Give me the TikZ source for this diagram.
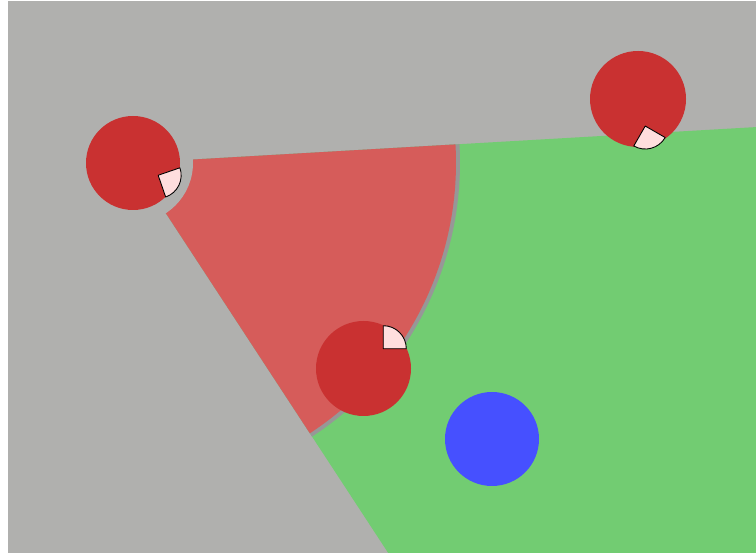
\documentclass[tikz,border=0pt]{standalone}
\usetikzlibrary{calc}
\definecolor{floorgray}{HTML}{B0B0AE}
\definecolor{edgegray}{HTML}{979797}
\definecolor{zonered}{HTML}{D65C5A}
\definecolor{zonegreen}{HTML}{72CC72}
\definecolor{robotred}{HTML}{C93131}
\definecolor{viewpink}{HTML}{FFDEDE}
\definecolor{ballblue}{HTML}{4650FF}

\begin{document}
\begin{tikzpicture}[x=0.02cm,y=0.02cm,
    robot/.style={fill=robotred},
    view/.style={fill=viewpink,draw=black,line width=0.5pt,line join=round}]
  \fill[white] (0,0) rectangle (756,553);
  \useasboundingbox (0,0) rectangle (756,553);
  \fill[floorgray] (8,0) rectangle (756,552);
  \coordinate (apex) at (133,390);
  \coordinate (c1) at (133,390);
  \coordinate (c2) at (363.5,184.5);
  \coordinate (c3) at (638,454);
  \coordinate (ball) at (492,114);
  \begin{scope}
    \clip (8,0) rectangle (756,552);
    % green zone beyond the arc
    \fill[zonegreen] (apex) -- ($(apex)+(3.3:1000)$) -- ($(apex)+(-26.75:1000)$) -- ($(apex)+(-56.8:1000)$) -- cycle;
    \fill[edgegray] (apex) -- ($(apex)+(3.3:327)$) arc[start angle=3.3,end angle=-56.8,radius=327] -- cycle;
    % red zone
    \fill[zonered] (apex) -- ($(apex)+(3.3:323)$) arc[start angle=3.3,end angle=-56.8,radius=323] -- cycle;
    \fill[floorgray] (apex) circle (60);
  \end{scope}
  % robots
  \fill[robot] (c1) circle (47);
  \filldraw[view] ($(c1)+(-26:28)$) -- ++(-71:23) arc[start angle=-71,end angle=19,radius=23] -- cycle;
  \fill[robot] (c2) circle (47.5);
  \filldraw[view] ($(c2)+(45:28)$) -- ++(0:23) arc[start angle=0,end angle=90,radius=23] -- cycle;
  \fill[robot] (c3) circle (48);
  \filldraw[view] ($(c3)+(-75:28)$) -- ++(-120:23) arc[start angle=-120,end angle=-30,radius=23] -- cycle;
  % ball
  \fill[ballblue] (ball) circle (47);
\end{tikzpicture}
\end{document}
